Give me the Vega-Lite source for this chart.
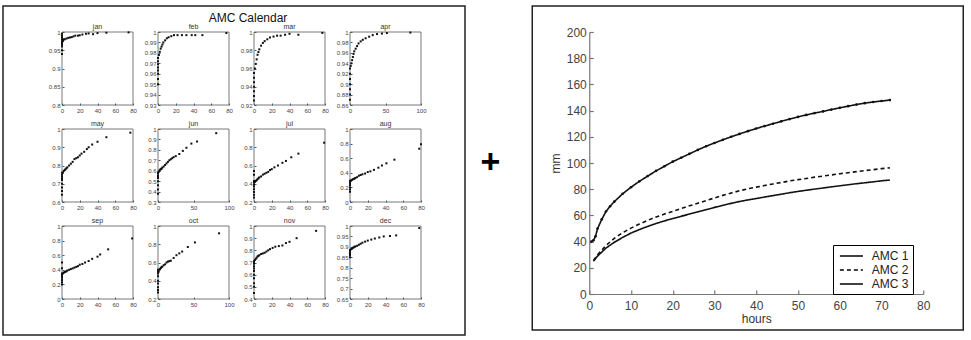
{
  "$schema": "https://vega.github.io/schema/vega-lite/v6.json",
  "padding": {"left": 2, "top": 5, "right": 0, "bottom": 0},
  "config": {
    "font": "Liberation Sans",
    "view": {"stroke": null},
    "axis": {"grid": false, "domain": false, "labelFontSize": 6, "labelColor": "#444", "tickColor": "#555", "tickSize": -2, "labelPadding": 4, "labelFlush": false, "labelOverlap": false, "labelExpr": "format(datum.value, '~g')"},
    "title": {"fontSize": 12, "fontWeight": "normal", "color": "#111"}
  },
  "datasets": {
    "cal": [
      {"m":"jan","h":0,"p":0.94},{"m":"jan","h":0,"p":0.95},{"m":"jan","h":0,"p":0.96},{"m":"jan","h":0,"p":0.965},{"m":"jan","h":0,"p":0.97},{"m":"jan","h":0,"p":0.975},{"m":"jan","h":0,"p":0.98},{"m":"jan","h":0,"p":0.985},{"m":"jan","h":0,"p":0.99},{"m":"jan","h":0,"p":0.995},{"m":"jan","h":1,"p":0.975},{"m":"jan","h":1,"p":0.978},{"m":"jan","h":2,"p":0.98},{"m":"jan","h":3,"p":0.98},{"m":"jan","h":5,"p":0.982},{"m":"jan","h":7,"p":0.984},{"m":"jan","h":9,"p":0.985},{"m":"jan","h":11,"p":0.986},{"m":"jan","h":13,"p":0.988},{"m":"jan","h":15,"p":0.99},{"m":"jan","h":18,"p":0.99},{"m":"jan","h":20,"p":0.991},{"m":"jan","h":23,"p":0.993},{"m":"jan","h":27,"p":0.995},{"m":"jan","h":30,"p":0.996},{"m":"jan","h":35,"p":0.994},{"m":"jan","h":40,"p":0.997},{"m":"jan","h":50,"p":0.998},{"m":"jan","h":75,"p":0.999},
      {"m":"feb","h":0,"p":0.95},{"m":"feb","h":0,"p":0.955},{"m":"feb","h":0,"p":0.96},{"m":"feb","h":0,"p":0.963},{"m":"feb","h":0,"p":0.966},{"m":"feb","h":0,"p":0.969},{"m":"feb","h":0,"p":0.972},{"m":"feb","h":0,"p":0.975},{"m":"feb","h":1,"p":0.978},{"m":"feb","h":2,"p":0.981},{"m":"feb","h":3,"p":0.984},{"m":"feb","h":4,"p":0.986},{"m":"feb","h":5,"p":0.988},{"m":"feb","h":6,"p":0.99},{"m":"feb","h":8,"p":0.992},{"m":"feb","h":10,"p":0.994},{"m":"feb","h":12,"p":0.995},{"m":"feb","h":15,"p":0.996},{"m":"feb","h":18,"p":0.997},{"m":"feb","h":22,"p":0.997},{"m":"feb","h":27,"p":0.997},{"m":"feb","h":32,"p":0.997},{"m":"feb","h":38,"p":0.997},{"m":"feb","h":42,"p":0.997},{"m":"feb","h":50,"p":0.997},{"m":"feb","h":77,"p":0.999},
      {"m":"mar","h":0,"p":0.925},{"m":"mar","h":0,"p":0.93},{"m":"mar","h":0,"p":0.935},{"m":"mar","h":0,"p":0.94},{"m":"mar","h":0,"p":0.945},{"m":"mar","h":0,"p":0.95},{"m":"mar","h":0,"p":0.955},{"m":"mar","h":1,"p":0.96},{"m":"mar","h":2,"p":0.965},{"m":"mar","h":3,"p":0.97},{"m":"mar","h":4,"p":0.975},{"m":"mar","h":5,"p":0.978},{"m":"mar","h":6,"p":0.981},{"m":"mar","h":8,"p":0.985},{"m":"mar","h":10,"p":0.988},{"m":"mar","h":12,"p":0.99},{"m":"mar","h":15,"p":0.992},{"m":"mar","h":18,"p":0.994},{"m":"mar","h":22,"p":0.995},{"m":"mar","h":26,"p":0.996},{"m":"mar","h":30,"p":0.996},{"m":"mar","h":35,"p":0.997},{"m":"mar","h":40,"p":0.998},{"m":"mar","h":50,"p":0.997},{"m":"mar","h":77,"p":0.999},
      {"m":"apr","h":0,"p":0.87},{"m":"apr","h":0,"p":0.88},{"m":"apr","h":0,"p":0.89},{"m":"apr","h":0,"p":0.9},{"m":"apr","h":0,"p":0.91},{"m":"apr","h":0,"p":0.92},{"m":"apr","h":0,"p":0.93},{"m":"apr","h":1,"p":0.935},{"m":"apr","h":2,"p":0.94},{"m":"apr","h":3,"p":0.946},{"m":"apr","h":4,"p":0.952},{"m":"apr","h":5,"p":0.958},{"m":"apr","h":6,"p":0.963},{"m":"apr","h":8,"p":0.968},{"m":"apr","h":10,"p":0.973},{"m":"apr","h":12,"p":0.978},{"m":"apr","h":15,"p":0.982},{"m":"apr","h":18,"p":0.985},{"m":"apr","h":22,"p":0.988},{"m":"apr","h":27,"p":0.991},{"m":"apr","h":32,"p":0.994},{"m":"apr","h":38,"p":0.996},{"m":"apr","h":45,"p":0.997},{"m":"apr","h":52,"p":0.998},{"m":"apr","h":85,"p":0.999},
      {"m":"may","h":0,"p":0.64},{"m":"may","h":0,"p":0.66},{"m":"may","h":0,"p":0.68},{"m":"may","h":0,"p":0.7},{"m":"may","h":0,"p":0.72},{"m":"may","h":0,"p":0.73},{"m":"may","h":0,"p":0.74},{"m":"may","h":0,"p":0.75},{"m":"may","h":0,"p":0.76},{"m":"may","h":1,"p":0.76},{"m":"may","h":2,"p":0.77},{"m":"may","h":3,"p":0.775},{"m":"may","h":4,"p":0.78},{"m":"may","h":5,"p":0.785},{"m":"may","h":6,"p":0.79},{"m":"may","h":8,"p":0.8},{"m":"may","h":10,"p":0.81},{"m":"may","h":12,"p":0.82},{"m":"may","h":14,"p":0.835},{"m":"may","h":16,"p":0.84},{"m":"may","h":18,"p":0.845},{"m":"may","h":20,"p":0.855},{"m":"may","h":22,"p":0.865},{"m":"may","h":25,"p":0.875},{"m":"may","h":28,"p":0.89},{"m":"may","h":30,"p":0.9},{"m":"may","h":34,"p":0.915},{"m":"may","h":40,"p":0.93},{"m":"may","h":50,"p":0.955},{"m":"may","h":77,"p":0.98},
      {"m":"jun","h":0,"p":0.38},{"m":"jun","h":0,"p":0.42},{"m":"jun","h":0,"p":0.46},{"m":"jun","h":0,"p":0.5},{"m":"jun","h":0,"p":0.53},{"m":"jun","h":0,"p":0.55},{"m":"jun","h":0,"p":0.57},{"m":"jun","h":0,"p":0.58},{"m":"jun","h":1,"p":0.59},{"m":"jun","h":2,"p":0.6},{"m":"jun","h":3,"p":0.61},{"m":"jun","h":4,"p":0.615},{"m":"jun","h":5,"p":0.62},{"m":"jun","h":6,"p":0.63},{"m":"jun","h":8,"p":0.64},{"m":"jun","h":10,"p":0.655},{"m":"jun","h":12,"p":0.67},{"m":"jun","h":14,"p":0.685},{"m":"jun","h":16,"p":0.7},{"m":"jun","h":18,"p":0.71},{"m":"jun","h":20,"p":0.72},{"m":"jun","h":22,"p":0.73},{"m":"jun","h":25,"p":0.74},{"m":"jun","h":30,"p":0.76},{"m":"jun","h":35,"p":0.79},{"m":"jun","h":40,"p":0.82},{"m":"jun","h":47,"p":0.86},{"m":"jun","h":55,"p":0.88},{"m":"jun","h":82,"p":0.96},
      {"m":"jul","h":0,"p":0.25},{"m":"jul","h":0,"p":0.28},{"m":"jul","h":0,"p":0.31},{"m":"jul","h":0,"p":0.34},{"m":"jul","h":0,"p":0.37},{"m":"jul","h":0,"p":0.39},{"m":"jul","h":0,"p":0.41},{"m":"jul","h":0,"p":0.43},{"m":"jul","h":0,"p":0.5},{"m":"jul","h":0,"p":0.54},{"m":"jul","h":1,"p":0.42},{"m":"jul","h":2,"p":0.43},{"m":"jul","h":3,"p":0.44},{"m":"jul","h":4,"p":0.45},{"m":"jul","h":5,"p":0.46},{"m":"jul","h":6,"p":0.47},{"m":"jul","h":8,"p":0.48},{"m":"jul","h":10,"p":0.5},{"m":"jul","h":12,"p":0.51},{"m":"jul","h":14,"p":0.52},{"m":"jul","h":16,"p":0.53},{"m":"jul","h":18,"p":0.55},{"m":"jul","h":20,"p":0.56},{"m":"jul","h":23,"p":0.58},{"m":"jul","h":27,"p":0.6},{"m":"jul","h":32,"p":0.63},{"m":"jul","h":36,"p":0.65},{"m":"jul","h":42,"p":0.69},{"m":"jul","h":50,"p":0.73},{"m":"jul","h":79,"p":0.85},
      {"m":"aug","h":0,"p":0.14},{"m":"aug","h":0,"p":0.17},{"m":"aug","h":0,"p":0.2},{"m":"aug","h":0,"p":0.23},{"m":"aug","h":0,"p":0.25},{"m":"aug","h":0,"p":0.27},{"m":"aug","h":0,"p":0.29},{"m":"aug","h":1,"p":0.29},{"m":"aug","h":2,"p":0.3},{"m":"aug","h":3,"p":0.31},{"m":"aug","h":4,"p":0.315},{"m":"aug","h":5,"p":0.32},{"m":"aug","h":6,"p":0.33},{"m":"aug","h":8,"p":0.34},{"m":"aug","h":10,"p":0.36},{"m":"aug","h":12,"p":0.37},{"m":"aug","h":14,"p":0.38},{"m":"aug","h":17,"p":0.39},{"m":"aug","h":20,"p":0.41},{"m":"aug","h":23,"p":0.42},{"m":"aug","h":27,"p":0.44},{"m":"aug","h":32,"p":0.47},{"m":"aug","h":36,"p":0.5},{"m":"aug","h":41,"p":0.53},{"m":"aug","h":50,"p":0.58},{"m":"aug","h":78,"p":0.73},{"m":"aug","h":80,"p":0.79},
      {"m":"sep","h":0,"p":0.2},{"m":"sep","h":0,"p":0.23},{"m":"sep","h":0,"p":0.26},{"m":"sep","h":0,"p":0.29},{"m":"sep","h":0,"p":0.31},{"m":"sep","h":0,"p":0.33},{"m":"sep","h":0,"p":0.35},{"m":"sep","h":0,"p":0.42},{"m":"sep","h":0,"p":0.5},{"m":"sep","h":1,"p":0.35},{"m":"sep","h":2,"p":0.36},{"m":"sep","h":3,"p":0.37},{"m":"sep","h":4,"p":0.375},{"m":"sep","h":5,"p":0.38},{"m":"sep","h":6,"p":0.39},{"m":"sep","h":8,"p":0.4},{"m":"sep","h":10,"p":0.41},{"m":"sep","h":12,"p":0.42},{"m":"sep","h":14,"p":0.43},{"m":"sep","h":16,"p":0.44},{"m":"sep","h":18,"p":0.45},{"m":"sep","h":20,"p":0.47},{"m":"sep","h":23,"p":0.48},{"m":"sep","h":26,"p":0.5},{"m":"sep","h":30,"p":0.52},{"m":"sep","h":34,"p":0.55},{"m":"sep","h":40,"p":0.58},{"m":"sep","h":43,"p":0.61},{"m":"sep","h":52,"p":0.68},{"m":"sep","h":79,"p":0.83},
      {"m":"oct","h":0,"p":0.27},{"m":"oct","h":0,"p":0.3},{"m":"oct","h":0,"p":0.33},{"m":"oct","h":0,"p":0.37},{"m":"oct","h":0,"p":0.4},{"m":"oct","h":0,"p":0.45},{"m":"oct","h":0,"p":0.48},{"m":"oct","h":0,"p":0.5},{"m":"oct","h":0,"p":0.52},{"m":"oct","h":1,"p":0.5},{"m":"oct","h":2,"p":0.52},{"m":"oct","h":3,"p":0.53},{"m":"oct","h":4,"p":0.54},{"m":"oct","h":5,"p":0.55},{"m":"oct","h":6,"p":0.555},{"m":"oct","h":8,"p":0.57},{"m":"oct","h":10,"p":0.58},{"m":"oct","h":12,"p":0.6},{"m":"oct","h":14,"p":0.61},{"m":"oct","h":16,"p":0.615},{"m":"oct","h":18,"p":0.62},{"m":"oct","h":22,"p":0.65},{"m":"oct","h":26,"p":0.68},{"m":"oct","h":30,"p":0.7},{"m":"oct","h":34,"p":0.72},{"m":"oct","h":42,"p":0.77},{"m":"oct","h":52,"p":0.82},{"m":"oct","h":86,"p":0.92},
      {"m":"nov","h":0,"p":0.45},{"m":"nov","h":0,"p":0.5},{"m":"nov","h":0,"p":0.53},{"m":"nov","h":0,"p":0.57},{"m":"nov","h":0,"p":0.6},{"m":"nov","h":0,"p":0.63},{"m":"nov","h":0,"p":0.65},{"m":"nov","h":0,"p":0.67},{"m":"nov","h":0,"p":0.69},{"m":"nov","h":0,"p":0.7},{"m":"nov","h":0,"p":0.71},{"m":"nov","h":1,"p":0.72},{"m":"nov","h":2,"p":0.73},{"m":"nov","h":3,"p":0.74},{"m":"nov","h":4,"p":0.75},{"m":"nov","h":5,"p":0.755},{"m":"nov","h":6,"p":0.76},{"m":"nov","h":8,"p":0.77},{"m":"nov","h":10,"p":0.775},{"m":"nov","h":12,"p":0.78},{"m":"nov","h":14,"p":0.79},{"m":"nov","h":16,"p":0.8},{"m":"nov","h":18,"p":0.81},{"m":"nov","h":21,"p":0.82},{"m":"nov","h":24,"p":0.83},{"m":"nov","h":28,"p":0.835},{"m":"nov","h":32,"p":0.84},{"m":"nov","h":36,"p":0.86},{"m":"nov","h":40,"p":0.87},{"m":"nov","h":48,"p":0.9},{"m":"nov","h":70,"p":0.96},
      {"m":"dec","h":0,"p":0.85},{"m":"dec","h":0,"p":0.86},{"m":"dec","h":0,"p":0.865},{"m":"dec","h":0,"p":0.87},{"m":"dec","h":0,"p":0.875},{"m":"dec","h":0,"p":0.88},{"m":"dec","h":0,"p":0.885},{"m":"dec","h":1,"p":0.888},{"m":"dec","h":2,"p":0.89},{"m":"dec","h":3,"p":0.895},{"m":"dec","h":4,"p":0.897},{"m":"dec","h":5,"p":0.9},{"m":"dec","h":6,"p":0.902},{"m":"dec","h":8,"p":0.905},{"m":"dec","h":10,"p":0.91},{"m":"dec","h":12,"p":0.915},{"m":"dec","h":14,"p":0.92},{"m":"dec","h":17,"p":0.925},{"m":"dec","h":20,"p":0.93},{"m":"dec","h":24,"p":0.935},{"m":"dec","h":28,"p":0.94},{"m":"dec","h":33,"p":0.945},{"m":"dec","h":38,"p":0.95},{"m":"dec","h":45,"p":0.952},{"m":"dec","h":52,"p":0.955},{"m":"dec","h":78,"p":0.99}
    ],
    "amc": [
      {"s":"AMC 1","h":1,"v":25},{"s":"AMC 1","h":2,"v":29},{"s":"AMC 1","h":4,"v":35},{"s":"AMC 1","h":6,"v":39.5},{"s":"AMC 1","h":8,"v":43.2},{"s":"AMC 1","h":10,"v":46.5},{"s":"AMC 1","h":12,"v":49.2},{"s":"AMC 1","h":14,"v":51.6},{"s":"AMC 1","h":16,"v":53.8},{"s":"AMC 1","h":18,"v":55.8},{"s":"AMC 1","h":20,"v":57.6},{"s":"AMC 1","h":22,"v":59.3},{"s":"AMC 1","h":24,"v":61},{"s":"AMC 1","h":26,"v":62.7},{"s":"AMC 1","h":28,"v":64.4},{"s":"AMC 1","h":30,"v":66.1},{"s":"AMC 1","h":32,"v":67.7},{"s":"AMC 1","h":34,"v":69.2},{"s":"AMC 1","h":36,"v":70.6},{"s":"AMC 1","h":38,"v":71.8},{"s":"AMC 1","h":40,"v":72.9},{"s":"AMC 1","h":42,"v":74},{"s":"AMC 1","h":44,"v":75.1},{"s":"AMC 1","h":46,"v":76.2},{"s":"AMC 1","h":48,"v":77.3},{"s":"AMC 1","h":50,"v":78.3},{"s":"AMC 1","h":52,"v":79.2},{"s":"AMC 1","h":54,"v":80.1},{"s":"AMC 1","h":56,"v":80.9},{"s":"AMC 1","h":58,"v":81.8},{"s":"AMC 1","h":60,"v":82.6},{"s":"AMC 1","h":62,"v":83.4},{"s":"AMC 1","h":64,"v":84.2},{"s":"AMC 1","h":66,"v":84.9},{"s":"AMC 1","h":68,"v":85.6},{"s":"AMC 1","h":70,"v":86.4},{"s":"AMC 1","h":72,"v":87},
      {"s":"AMC 2","h":1,"v":25.5},{"s":"AMC 2","h":2,"v":30},{"s":"AMC 2","h":4,"v":37},{"s":"AMC 2","h":6,"v":42.5},{"s":"AMC 2","h":8,"v":46.8},{"s":"AMC 2","h":10,"v":50.3},{"s":"AMC 2","h":12,"v":53.4},{"s":"AMC 2","h":14,"v":56.2},{"s":"AMC 2","h":16,"v":58.8},{"s":"AMC 2","h":18,"v":61},{"s":"AMC 2","h":20,"v":63.1},{"s":"AMC 2","h":22,"v":65.2},{"s":"AMC 2","h":24,"v":67.3},{"s":"AMC 2","h":26,"v":69.3},{"s":"AMC 2","h":28,"v":71.3},{"s":"AMC 2","h":30,"v":73.3},{"s":"AMC 2","h":32,"v":75.3},{"s":"AMC 2","h":34,"v":77.1},{"s":"AMC 2","h":36,"v":78.8},{"s":"AMC 2","h":38,"v":80.3},{"s":"AMC 2","h":40,"v":81.6},{"s":"AMC 2","h":42,"v":82.8},{"s":"AMC 2","h":44,"v":84},{"s":"AMC 2","h":46,"v":85.1},{"s":"AMC 2","h":48,"v":86.3},{"s":"AMC 2","h":50,"v":87.3},{"s":"AMC 2","h":52,"v":88.2},{"s":"AMC 2","h":54,"v":89.2},{"s":"AMC 2","h":56,"v":90},{"s":"AMC 2","h":58,"v":90.9},{"s":"AMC 2","h":60,"v":91.8},{"s":"AMC 2","h":62,"v":92.6},{"s":"AMC 2","h":64,"v":93.4},{"s":"AMC 2","h":66,"v":94.2},{"s":"AMC 2","h":68,"v":94.9},{"s":"AMC 2","h":70,"v":95.7},{"s":"AMC 2","h":72,"v":96.3},
      {"s":"AMC 3","h":0.5,"v":40},{"s":"AMC 3","h":1,"v":41},{"s":"AMC 3","h":1.5,"v":44},{"s":"AMC 3","h":2,"v":50},{"s":"AMC 3","h":3,"v":57},{"s":"AMC 3","h":4,"v":63},{"s":"AMC 3","h":5,"v":67},{"s":"AMC 3","h":6,"v":70.5},{"s":"AMC 3","h":8,"v":76.5},{"s":"AMC 3","h":10,"v":81.5},{"s":"AMC 3","h":12,"v":86},{"s":"AMC 3","h":14,"v":90},{"s":"AMC 3","h":16,"v":94},{"s":"AMC 3","h":18,"v":97.5},{"s":"AMC 3","h":20,"v":101},{"s":"AMC 3","h":22,"v":104},{"s":"AMC 3","h":24,"v":107},{"s":"AMC 3","h":26,"v":110},{"s":"AMC 3","h":28,"v":112.8},{"s":"AMC 3","h":30,"v":115.3},{"s":"AMC 3","h":32,"v":117.7},{"s":"AMC 3","h":34,"v":120},{"s":"AMC 3","h":36,"v":122.2},{"s":"AMC 3","h":38,"v":124.3},{"s":"AMC 3","h":40,"v":126.3},{"s":"AMC 3","h":42,"v":128.2},{"s":"AMC 3","h":44,"v":130},{"s":"AMC 3","h":46,"v":131.8},{"s":"AMC 3","h":48,"v":133.5},{"s":"AMC 3","h":50,"v":135.2},{"s":"AMC 3","h":52,"v":136.7},{"s":"AMC 3","h":54,"v":138.1},{"s":"AMC 3","h":56,"v":139.4},{"s":"AMC 3","h":58,"v":140.8},{"s":"AMC 3","h":60,"v":142.1},{"s":"AMC 3","h":62,"v":143.4},{"s":"AMC 3","h":64,"v":144.6},{"s":"AMC 3","h":66,"v":145.7},{"s":"AMC 3","h":68,"v":146.6},{"s":"AMC 3","h":70,"v":147.3},{"s":"AMC 3","h":72,"v":148}
    ]
  },
  "spacing": 30.25,
  "hconcat": [
    {
      "spacing": 14.5,
      "hconcat": [
        {
          "width": 462, "height": 329,
          "view": {"stroke": "#222", "strokeWidth": 1.5},
          "title": {"text": "AMC Calendar", "offset": -19, "dx": 14, "fontSize": 12, "fontWeight": "normal", "color": "#111"},
          "resolve": {"scale": {"x": "independent", "y": "independent"}, "axis": {"x": "independent", "y": "independent"}},
          "layer": [
            {"layer": [
              {"data": {"values": [{"t": "jan"}]}, "mark": {"type": "text", "fontSize": 7, "color": "#333", "baseline": "bottom", "dy": -2}, "encoding": {"text": {"field": "t"}, "x": {"datum": 40, "title": null}, "y": {"datum": 1, "title": null}}},
              {"data": {"values": [{"t": "jan"}]}, "mark": {"type": "rect", "filled": false, "stroke": "#555", "strokeWidth": 0.8}, "encoding": {"x": {"datum": 0, "title": null}, "x2": {"datum": 80}, "y": {"datum": 0.8, "title": null}, "y2": {"datum": 1}}},
              {"data": {"name": "cal"}, "transform": [{"filter": "datum.m === 'jan'"}], "mark": {"type": "point", "shape": "square", "filled": true, "size": 4, "color": "#111", "opacity": 1},
               "encoding": {"x": {"field": "h", "type": "quantitative", "title": null, "scale": {"domain": [0, 80], "range": [59, 130], "nice": false}, "axis": {"orient": "bottom", "offset": -230, "values": [0, 20, 40, 60, 80]}},
                            "y": {"field": "p", "type": "quantitative", "title": null, "scale": {"domain": [0.8, 1], "range": [99, 26], "nice": false, "zero": false}, "axis": {"orient": "left", "offset": -59, "values": [0.8, 0.85, 0.9, 0.95, 1]}}}}
            ]},
            {"layer": [
              {"data": {"values": [{"t": "feb"}]}, "mark": {"type": "text", "fontSize": 7, "color": "#333", "baseline": "bottom", "dy": -2}, "encoding": {"text": {"field": "t"}, "x": {"datum": 40, "title": null}, "y": {"datum": 1, "title": null}}},
              {"data": {"values": [{"t": "feb"}]}, "mark": {"type": "rect", "filled": false, "stroke": "#555", "strokeWidth": 0.8}, "encoding": {"x": {"datum": 0, "title": null}, "x2": {"datum": 80}, "y": {"datum": 0.93, "title": null}, "y2": {"datum": 1}}},
              {"data": {"name": "cal"}, "transform": [{"filter": "datum.m === 'feb'"}], "mark": {"type": "point", "shape": "square", "filled": true, "size": 4, "color": "#111", "opacity": 1},
               "encoding": {"x": {"field": "h", "type": "quantitative", "title": null, "scale": {"domain": [0, 80], "range": [155, 226], "nice": false}, "axis": {"orient": "bottom", "offset": -230, "values": [0, 20, 40, 60, 80]}},
                            "y": {"field": "p", "type": "quantitative", "title": null, "scale": {"domain": [0.93, 1], "range": [99, 26], "nice": false, "zero": false}, "axis": {"orient": "left", "offset": -155, "values": [0.93, 0.94, 0.95, 0.96, 0.97, 0.98, 0.99, 1]}}}}
            ]},
            {"layer": [
              {"data": {"values": [{"t": "mar"}]}, "mark": {"type": "text", "fontSize": 7, "color": "#333", "baseline": "bottom", "dy": -2}, "encoding": {"text": {"field": "t"}, "x": {"datum": 40, "title": null}, "y": {"datum": 1, "title": null}}},
              {"data": {"values": [{"t": "mar"}]}, "mark": {"type": "rect", "filled": false, "stroke": "#555", "strokeWidth": 0.8}, "encoding": {"x": {"datum": 0, "title": null}, "x2": {"datum": 80}, "y": {"datum": 0.92, "title": null}, "y2": {"datum": 1}}},
              {"data": {"name": "cal"}, "transform": [{"filter": "datum.m === 'mar'"}], "mark": {"type": "point", "shape": "square", "filled": true, "size": 4, "color": "#111", "opacity": 1},
               "encoding": {"x": {"field": "h", "type": "quantitative", "title": null, "scale": {"domain": [0, 80], "range": [251, 322], "nice": false}, "axis": {"orient": "bottom", "offset": -230, "values": [0, 20, 40, 60, 80]}},
                            "y": {"field": "p", "type": "quantitative", "title": null, "scale": {"domain": [0.92, 1], "range": [99, 26], "nice": false, "zero": false}, "axis": {"orient": "left", "offset": -251, "values": [0.92, 0.94, 0.96, 0.98, 1]}}}}
            ]},
            {"layer": [
              {"data": {"values": [{"t": "apr"}]}, "mark": {"type": "text", "fontSize": 7, "color": "#333", "baseline": "bottom", "dy": -2}, "encoding": {"text": {"field": "t"}, "x": {"datum": 50, "title": null}, "y": {"datum": 1, "title": null}}},
              {"data": {"values": [{"t": "apr"}]}, "mark": {"type": "rect", "filled": false, "stroke": "#555", "strokeWidth": 0.8}, "encoding": {"x": {"datum": 0, "title": null}, "x2": {"datum": 100}, "y": {"datum": 0.86, "title": null}, "y2": {"datum": 1}}},
              {"data": {"name": "cal"}, "transform": [{"filter": "datum.m === 'apr'"}], "mark": {"type": "point", "shape": "square", "filled": true, "size": 4, "color": "#111", "opacity": 1},
               "encoding": {"x": {"field": "h", "type": "quantitative", "title": null, "scale": {"domain": [0, 100], "range": [347, 418], "nice": false}, "axis": {"orient": "bottom", "offset": -230, "values": [0, 50, 100]}},
                            "y": {"field": "p", "type": "quantitative", "title": null, "scale": {"domain": [0.86, 1], "range": [99, 26], "nice": false, "zero": false}, "axis": {"orient": "left", "offset": -347, "values": [0.86, 0.88, 0.9, 0.92, 0.94, 0.96, 0.98, 1]}}}}
            ]},
            {"layer": [
              {"data": {"values": [{"t": "may"}]}, "mark": {"type": "text", "fontSize": 7, "color": "#333", "baseline": "bottom", "dy": -2}, "encoding": {"text": {"field": "t"}, "x": {"datum": 40, "title": null}, "y": {"datum": 1, "title": null}}},
              {"data": {"values": [{"t": "may"}]}, "mark": {"type": "rect", "filled": false, "stroke": "#555", "strokeWidth": 0.8}, "encoding": {"x": {"datum": 0, "title": null}, "x2": {"datum": 80}, "y": {"datum": 0.6, "title": null}, "y2": {"datum": 1}}},
              {"data": {"name": "cal"}, "transform": [{"filter": "datum.m === 'may'"}], "mark": {"type": "point", "shape": "square", "filled": true, "size": 4, "color": "#111", "opacity": 1},
               "encoding": {"x": {"field": "h", "type": "quantitative", "title": null, "scale": {"domain": [0, 80], "range": [59, 130], "nice": false}, "axis": {"orient": "bottom", "offset": -133, "values": [0, 20, 40, 60, 80]}},
                            "y": {"field": "p", "type": "quantitative", "title": null, "scale": {"domain": [0.6, 1], "range": [196, 123], "nice": false, "zero": false}, "axis": {"orient": "left", "offset": -59, "values": [0.6, 0.7, 0.8, 0.9, 1]}}}}
            ]},
            {"layer": [
              {"data": {"values": [{"t": "jun"}]}, "mark": {"type": "text", "fontSize": 7, "color": "#333", "baseline": "bottom", "dy": -2}, "encoding": {"text": {"field": "t"}, "x": {"datum": 50, "title": null}, "y": {"datum": 1, "title": null}}},
              {"data": {"values": [{"t": "jun"}]}, "mark": {"type": "rect", "filled": false, "stroke": "#555", "strokeWidth": 0.8}, "encoding": {"x": {"datum": 0, "title": null}, "x2": {"datum": 100}, "y": {"datum": 0.3, "title": null}, "y2": {"datum": 1}}},
              {"data": {"name": "cal"}, "transform": [{"filter": "datum.m === 'jun'"}], "mark": {"type": "point", "shape": "square", "filled": true, "size": 4, "color": "#111", "opacity": 1},
               "encoding": {"x": {"field": "h", "type": "quantitative", "title": null, "scale": {"domain": [0, 100], "range": [155, 226], "nice": false}, "axis": {"orient": "bottom", "offset": -133, "values": [0, 50, 100]}},
                            "y": {"field": "p", "type": "quantitative", "title": null, "scale": {"domain": [0.3, 1], "range": [196, 123], "nice": false, "zero": false}, "axis": {"orient": "left", "offset": -155, "values": [0.3, 0.4, 0.5, 0.6, 0.7, 0.8, 0.9, 1]}}}}
            ]},
            {"layer": [
              {"data": {"values": [{"t": "jul"}]}, "mark": {"type": "text", "fontSize": 7, "color": "#333", "baseline": "bottom", "dy": -2}, "encoding": {"text": {"field": "t"}, "x": {"datum": 40, "title": null}, "y": {"datum": 1, "title": null}}},
              {"data": {"values": [{"t": "jul"}]}, "mark": {"type": "rect", "filled": false, "stroke": "#555", "strokeWidth": 0.8}, "encoding": {"x": {"datum": 0, "title": null}, "x2": {"datum": 80}, "y": {"datum": 0.2, "title": null}, "y2": {"datum": 1}}},
              {"data": {"name": "cal"}, "transform": [{"filter": "datum.m === 'jul'"}], "mark": {"type": "point", "shape": "square", "filled": true, "size": 4, "color": "#111", "opacity": 1},
               "encoding": {"x": {"field": "h", "type": "quantitative", "title": null, "scale": {"domain": [0, 80], "range": [251, 322], "nice": false}, "axis": {"orient": "bottom", "offset": -133, "values": [0, 20, 40, 60, 80]}},
                            "y": {"field": "p", "type": "quantitative", "title": null, "scale": {"domain": [0.2, 1], "range": [196, 123], "nice": false, "zero": false}, "axis": {"orient": "left", "offset": -251, "values": [0.2, 0.4, 0.6, 0.8, 1]}}}}
            ]},
            {"layer": [
              {"data": {"values": [{"t": "aug"}]}, "mark": {"type": "text", "fontSize": 7, "color": "#333", "baseline": "bottom", "dy": -2}, "encoding": {"text": {"field": "t"}, "x": {"datum": 40, "title": null}, "y": {"datum": 1, "title": null}}},
              {"data": {"values": [{"t": "aug"}]}, "mark": {"type": "rect", "filled": false, "stroke": "#555", "strokeWidth": 0.8}, "encoding": {"x": {"datum": 0, "title": null}, "x2": {"datum": 80}, "y": {"datum": 0, "title": null}, "y2": {"datum": 1}}},
              {"data": {"name": "cal"}, "transform": [{"filter": "datum.m === 'aug'"}], "mark": {"type": "point", "shape": "square", "filled": true, "size": 4, "color": "#111", "opacity": 1},
               "encoding": {"x": {"field": "h", "type": "quantitative", "title": null, "scale": {"domain": [0, 80], "range": [347, 418], "nice": false}, "axis": {"orient": "bottom", "offset": -133, "values": [0, 20, 40, 60, 80]}},
                            "y": {"field": "p", "type": "quantitative", "title": null, "scale": {"domain": [0, 1], "range": [196, 123], "nice": false, "zero": false}, "axis": {"orient": "left", "offset": -347, "values": [0, 0.2, 0.4, 0.6, 0.8, 1]}}}}
            ]},
            {"layer": [
              {"data": {"values": [{"t": "sep"}]}, "mark": {"type": "text", "fontSize": 7, "color": "#333", "baseline": "bottom", "dy": -2}, "encoding": {"text": {"field": "t"}, "x": {"datum": 40, "title": null}, "y": {"datum": 1, "title": null}}},
              {"data": {"values": [{"t": "sep"}]}, "mark": {"type": "rect", "filled": false, "stroke": "#555", "strokeWidth": 0.8}, "encoding": {"x": {"datum": 0, "title": null}, "x2": {"datum": 80}, "y": {"datum": 0, "title": null}, "y2": {"datum": 1}}},
              {"data": {"name": "cal"}, "transform": [{"filter": "datum.m === 'sep'"}], "mark": {"type": "point", "shape": "square", "filled": true, "size": 4, "color": "#111", "opacity": 1},
               "encoding": {"x": {"field": "h", "type": "quantitative", "title": null, "scale": {"domain": [0, 80], "range": [59, 130], "nice": false}, "axis": {"orient": "bottom", "offset": -36, "values": [0, 20, 40, 60, 80]}},
                            "y": {"field": "p", "type": "quantitative", "title": null, "scale": {"domain": [0, 1], "range": [293, 220], "nice": false, "zero": false}, "axis": {"orient": "left", "offset": -59, "values": [0, 0.2, 0.4, 0.6, 0.8, 1]}}}}
            ]},
            {"layer": [
              {"data": {"values": [{"t": "oct"}]}, "mark": {"type": "text", "fontSize": 7, "color": "#333", "baseline": "bottom", "dy": -2}, "encoding": {"text": {"field": "t"}, "x": {"datum": 50, "title": null}, "y": {"datum": 1, "title": null}}},
              {"data": {"values": [{"t": "oct"}]}, "mark": {"type": "rect", "filled": false, "stroke": "#555", "strokeWidth": 0.8}, "encoding": {"x": {"datum": 0, "title": null}, "x2": {"datum": 100}, "y": {"datum": 0.2, "title": null}, "y2": {"datum": 1}}},
              {"data": {"name": "cal"}, "transform": [{"filter": "datum.m === 'oct'"}], "mark": {"type": "point", "shape": "square", "filled": true, "size": 4, "color": "#111", "opacity": 1},
               "encoding": {"x": {"field": "h", "type": "quantitative", "title": null, "scale": {"domain": [0, 100], "range": [155, 226], "nice": false}, "axis": {"orient": "bottom", "offset": -36, "values": [0, 50, 100]}},
                            "y": {"field": "p", "type": "quantitative", "title": null, "scale": {"domain": [0.2, 1], "range": [293, 220], "nice": false, "zero": false}, "axis": {"orient": "left", "offset": -155, "values": [0.2, 0.4, 0.6, 0.8, 1]}}}}
            ]},
            {"layer": [
              {"data": {"values": [{"t": "nov"}]}, "mark": {"type": "text", "fontSize": 7, "color": "#333", "baseline": "bottom", "dy": -2}, "encoding": {"text": {"field": "t"}, "x": {"datum": 40, "title": null}, "y": {"datum": 1, "title": null}}},
              {"data": {"values": [{"t": "nov"}]}, "mark": {"type": "rect", "filled": false, "stroke": "#555", "strokeWidth": 0.8}, "encoding": {"x": {"datum": 0, "title": null}, "x2": {"datum": 80}, "y": {"datum": 0.4, "title": null}, "y2": {"datum": 1}}},
              {"data": {"name": "cal"}, "transform": [{"filter": "datum.m === 'nov'"}], "mark": {"type": "point", "shape": "square", "filled": true, "size": 4, "color": "#111", "opacity": 1},
               "encoding": {"x": {"field": "h", "type": "quantitative", "title": null, "scale": {"domain": [0, 80], "range": [251, 322], "nice": false}, "axis": {"orient": "bottom", "offset": -36, "values": [0, 20, 40, 60, 80]}},
                            "y": {"field": "p", "type": "quantitative", "title": null, "scale": {"domain": [0.4, 1], "range": [293, 220], "nice": false, "zero": false}, "axis": {"orient": "left", "offset": -251, "values": [0.4, 0.5, 0.6, 0.7, 0.8, 0.9, 1]}}}}
            ]},
            {"layer": [
              {"data": {"values": [{"t": "dec"}]}, "mark": {"type": "text", "fontSize": 7, "color": "#333", "baseline": "bottom", "dy": -2}, "encoding": {"text": {"field": "t"}, "x": {"datum": 40, "title": null}, "y": {"datum": 1, "title": null}}},
              {"data": {"values": [{"t": "dec"}]}, "mark": {"type": "rect", "filled": false, "stroke": "#555", "strokeWidth": 0.8}, "encoding": {"x": {"datum": 0, "title": null}, "x2": {"datum": 80}, "y": {"datum": 0.65, "title": null}, "y2": {"datum": 1}}},
              {"data": {"name": "cal"}, "transform": [{"filter": "datum.m === 'dec'"}], "mark": {"type": "point", "shape": "square", "filled": true, "size": 4, "color": "#111", "opacity": 1},
               "encoding": {"x": {"field": "h", "type": "quantitative", "title": null, "scale": {"domain": [0, 80], "range": [347, 418], "nice": false}, "axis": {"orient": "bottom", "offset": -36, "values": [0, 20, 40, 60, 80]}},
                            "y": {"field": "p", "type": "quantitative", "title": null, "scale": {"domain": [0.65, 1], "range": [293, 220], "nice": false, "zero": false}, "axis": {"orient": "left", "offset": -347, "values": [0.65, 0.7, 0.75, 0.8, 0.85, 0.9, 0.95, 1]}}}}
            ]}
          ]
        },
        {
          "width": 20, "height": 314,
          "data": {"values": [{"t": "+"}]},
          "mark": {"type": "text", "fontSize": 34, "fontWeight": "bold", "color": "#000"},
          "encoding": {"text": {"field": "t"}}
        }
      ]
    },
    {
      "width": 431, "height": 324,
      "view": {"stroke": "#222", "strokeWidth": 1.5},
      "data": {"name": "amc"},
      "encoding": {
        "x": {"field": "h", "type": "quantitative", "title": "hours",
              "scale": {"domain": [0, 80], "range": [57, 391], "nice": false},
              "axis": {"values": [0, 10, 20, 30, 40, 50, 60, 70, 80], "offset": -36, "labelFontSize": 12, "labelColor": "#444", "domain": true, "domainColor": "#777", "domainWidth": 1.2, "tickSize": -4, "tickColor": "#777", "tickWidth": 1.2, "labelPadding": 10, "titleFontSize": 12, "titleFontWeight": "normal", "titleColor": "#333", "titlePadding": 2}},
        "y": {"field": "v", "type": "quantitative", "title": "mm",
              "scale": {"domain": [0, 200], "range": [288, 26], "nice": false},
              "axis": {"values": [0, 20, 40, 60, 80, 100, 120, 140, 160, 180, 200], "offset": -57, "labelFontSize": 12, "labelColor": "#444", "domain": true, "domainColor": "#777", "domainWidth": 1.2, "tickSize": -4, "tickColor": "#777", "tickWidth": 1.2, "labelPadding": 7, "titleFontSize": 12, "titleFontWeight": "normal", "titleColor": "#333", "titlePadding": 4}}
      },
      "layer": [
        {
          "mark": {"type": "line", "color": "#111", "strokeJoin": "round"},
          "encoding": {
            "strokeDash": {"field": "s", "type": "nominal", "scale": {"domain": ["AMC 1", "AMC 2", "AMC 3"], "range": [[1, 0], [4, 3], [1, 0]]},
                           "legend": {"orient": "none", "legendX": 830, "legendY": 239, "title": null, "strokeColor": "#000", "fillColor": "#fff", "padding": 4, "symbolType": "M-1.88,0H1.88", "symbolSize": 150, "symbolStrokeWidth": 1.6, "symbolStrokeColor": "#000", "symbolFillColor": "transparent", "symbolOffset": 7.4, "labelFontSize": 12, "labelColor": "#222", "rowPadding": 1, "labelOffset": 13.4}},
            "strokeWidth": {"field": "s", "type": "nominal", "scale": {"domain": ["AMC 1", "AMC 2", "AMC 3"], "range": [1.6, 1.6, 2.2]}, "legend": null}
          }
        },
        {
          "transform": [{"filter": "datum.s === 'AMC 3'"}],
          "mark": {"type": "point", "shape": "circle", "filled": true, "size": 7, "color": "#111", "opacity": 1}
        }
      ]
    }
  ]
}
